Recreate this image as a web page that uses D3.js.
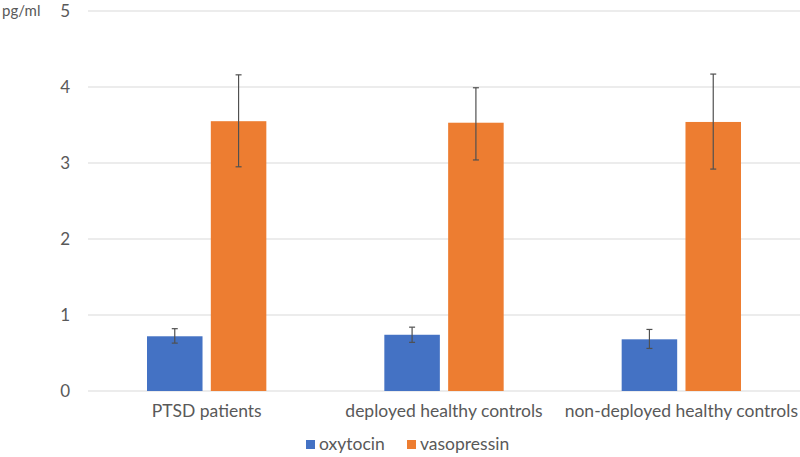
<!DOCTYPE html>
<html>
<head>
<meta charset="utf-8">
<script src="https://cdn.jsdelivr.net/npm/d3@7"></script>
<style>
  body { margin: 0; background: #fff; }
  text { font-family: Lato, "Open Sans", sans-serif; fill: #595959; }
</style>
</head>
<body>
<div id="chart"></div>
<script>
// Chart data
var groups = ["PTSD patients", "deployed healthy controls", "non-deployed healthy controls"];
var seriesNames = ["oxytocin", "vasopressin"];
var oxytocin = [0.72, 0.74, 0.68];
var oxytocinLow = [0.63, 0.64, 0.56];
var oxytocinHigh = [0.82, 0.84, 0.81];
var vasopressin = [3.55, 3.53, 3.54];
var vasopressinLow = [2.95, 3.04, 2.92];
var vasopressinHigh = [4.16, 3.99, 4.17];
var yTicks = [0, 1, 2, 3, 4, 5];
var colors = ["#4472C4", "#ED7D31"];

var svgWidth = 800;
var svgHeight = 457;
var margin = { top: 11, right: 0, bottom: 66, left: 88 };
var width = svgWidth - margin.left - margin.right;
var height = svgHeight - margin.top - margin.bottom;

var svg = d3.select("#chart")
  .append("svg")
    .attr("width", svgWidth)
    .attr("height", svgHeight)
  .append("g")
    .attr("transform", `translate(${margin.left}, ${margin.top})`);

// Scales
var x0 = d3.scaleBand()
  .domain(groups)
  .range([0, width])
  .paddingInner(0)
  .paddingOuter(0);

var x1 = d3.scaleBand()
  .domain(seriesNames)
  .range([59, x0.bandwidth() - 59])
  .paddingInner(0.13);

var y = d3.scaleLinear()
  .domain([0, 5])
  .range([height, 0]);

// Gridlines
svg.append("g")
  .selectAll("line")
  .data(yTicks)
  .enter()
  .append("line")
    .attr("x1", 0)
    .attr("x2", width)
    .attr("y1", d => y(d))
    .attr("y2", d => y(d))
    .attr("stroke", "#d9d9d9")
    .attr("stroke-width", 1);

// Y tick labels
svg.append("g")
  .selectAll("text")
  .data(yTicks)
  .enter()
  .append("text")
    .attr("x", -18)
    .attr("y", d => y(d))
    .attr("dy", "0.35em")
    .attr("text-anchor", "end")
    .style("font-size", "17px")
    .text(d => d);

// Unit label
svg.append("text")
  .attr("x", -86)
  .attr("y", 0)
  .attr("dy", "0.35em")
  .style("font-size", "15px")
  .text("pg/ml");

// Build rows for bars
var rows = [];
groups.forEach(function(g, i) {
  rows.push({ group: g, series: "oxytocin", value: oxytocin[i], lo: oxytocinLow[i], hi: oxytocinHigh[i], color: colors[0] });
  rows.push({ group: g, series: "vasopressin", value: vasopressin[i], lo: vasopressinLow[i], hi: vasopressinHigh[i], color: colors[1] });
});

var barGroup = svg.selectAll("g.bar")
  .data(rows)
  .enter()
  .append("g")
    .attr("class", "bar")
    .attr("transform", d => `translate(${x0(d.group) + x1(d.series)}, 0)`);

barGroup.append("rect")
  .attr("x", 0)
  .attr("y", d => y(d.value))
  .attr("width", x1.bandwidth())
  .attr("height", d => height - y(d.value))
  .attr("fill", d => d.color);

// Error bars
var cx = x1.bandwidth() / 2;
barGroup.append("line")
  .attr("x1", cx).attr("x2", cx)
  .attr("y1", d => y(d.lo))
  .attr("y2", d => y(d.hi))
  .attr("stroke", "#505050")
  .attr("stroke-width", 1.2);
barGroup.append("line")
  .attr("x1", cx - 3).attr("x2", cx + 3)
  .attr("y1", d => y(d.hi))
  .attr("y2", d => y(d.hi))
  .attr("stroke", "#505050")
  .attr("stroke-width", 1.2);
barGroup.append("line")
  .attr("x1", cx - 3).attr("x2", cx + 3)
  .attr("y1", d => y(d.lo))
  .attr("y2", d => y(d.lo))
  .attr("stroke", "#505050")
  .attr("stroke-width", 1.2);

// X category labels
svg.append("g")
  .selectAll("text")
  .data(groups)
  .enter()
  .append("text")
    .attr("x", d => x0(d) + x0.bandwidth() / 2)
    .attr("y", height + 26)
    .attr("text-anchor", "middle")
    .style("font-size", "17.5px")
    .text(d => d);

// Legend
var legend = svg.append("g")
  .attr("transform", `translate(${306 - margin.left}, ${height + 59})`);
var legendX = [0, 101];
seriesNames.forEach(function(name, i) {
  legend.append("rect")
    .attr("x", legendX[i])
    .attr("y", -10)
    .attr("width", 9)
    .attr("height", 9)
    .attr("fill", colors[i]);
  legend.append("text")
    .attr("x", legendX[i] + 13)
    .attr("y", 0)
    .style("font-size", "17.5px")
    .text(name);
});
</script>
</body>
</html>
